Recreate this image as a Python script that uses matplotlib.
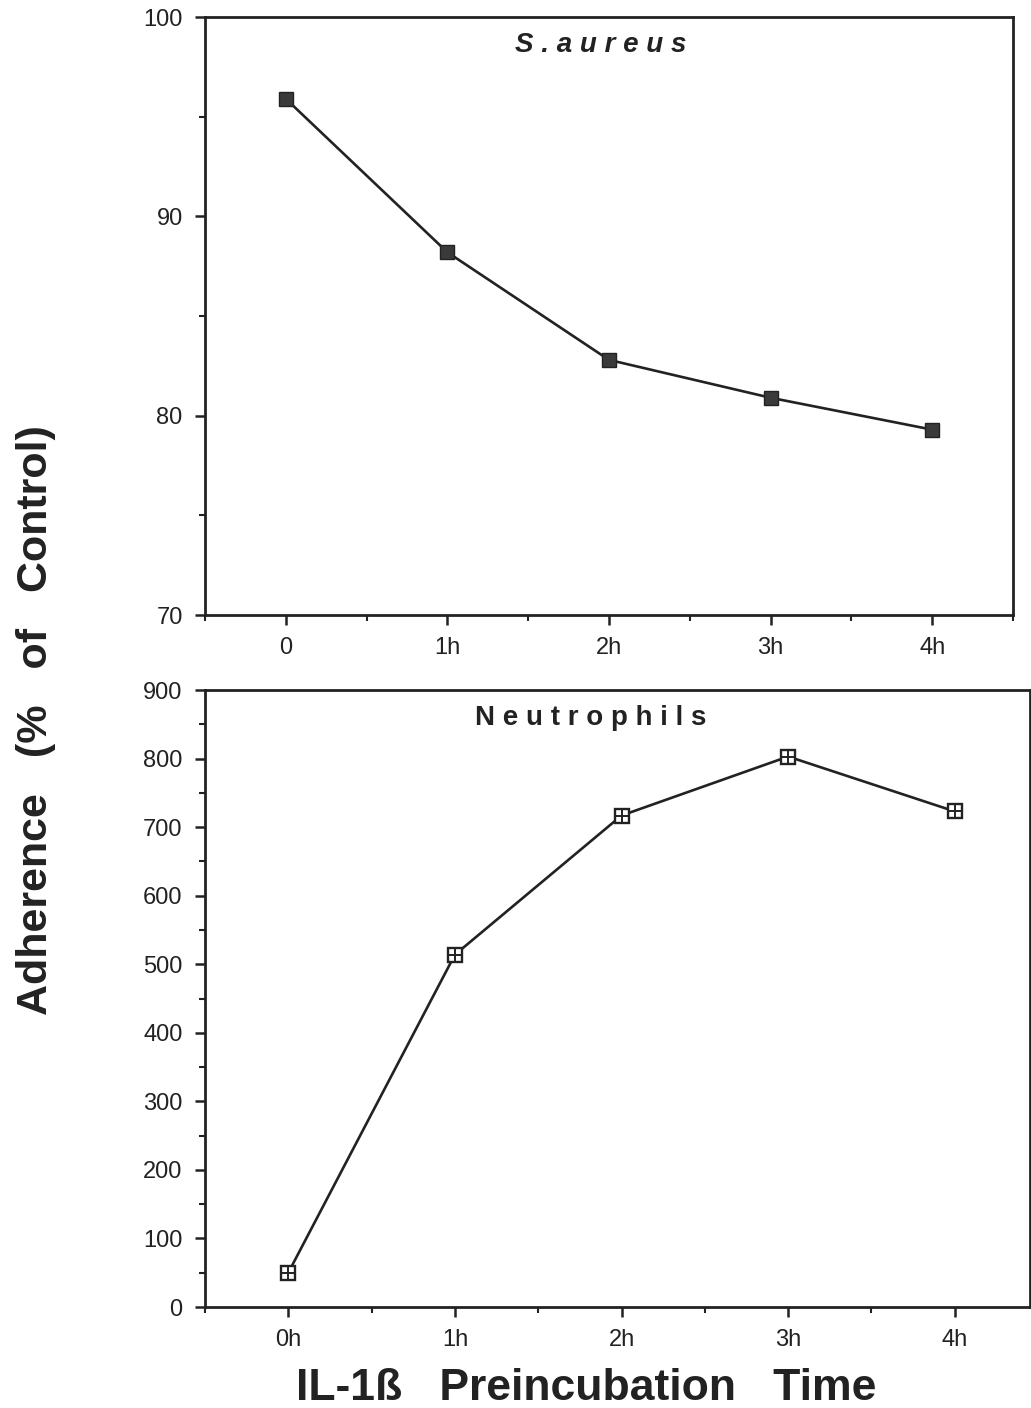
import numpy as np
import matplotlib.pyplot as plt
from matplotlib.ticker import MultipleLocator

plt.rcParams['font.family'] = ['Liberation Sans', 'DejaVu Sans']

# top panel: S.aureus adherence
top_labels = ['0', '1h', '2h', '3h', '4h']
top_values = [95.9, 88.2, 82.8, 80.9, 79.3]

# bottom panel: neutrophil adherence
bot_labels = ['0h', '1h', '2h', '3h', '4h']
bot_values = [50, 514, 717, 803, 723]

fig = plt.figure(figsize=(10.31, 14.08), dpi=100)
ax1 = fig.add_axes([0.1988, 0.5632, 0.7837, 0.4247])
ax2 = fig.add_axes([0.1988, 0.0717, 0.8000, 0.4382])


def style_axis(ax):
    for s in ax.spines.values():
        s.set_linewidth(2.0)
        s.set_color('#222222')
    ax.tick_params(which='major', direction='out', length=7, width=1.8,
                   labelsize=17, pad=9, colors='#222222')
    ax.tick_params(which='minor', direction='out', length=4, width=1.5,
                   colors='#222222')
    ax.xaxis.set_minor_locator(MultipleLocator(0.5))


x1 = np.arange(len(top_values))
ax1.plot(x1, top_values, color='#222222', lw=1.9, marker='s', ms=9.5,
         mfc='#3a3a3a', mec='#222222')
ax1.set_xlim(-0.5, 4.5)
ax1.set_ylim(70, 100)
ax1.set_xticks(x1)
ax1.set_xticklabels(top_labels)
ax1.yaxis.set_major_locator(MultipleLocator(10))
ax1.yaxis.set_minor_locator(MultipleLocator(5))
style_axis(ax1)
ax1.text(0.49, 0.975, 'S . a u r e u s', transform=ax1.transAxes, ha='center', va='top',
         fontsize=20, fontweight='bold', fontstyle='italic', color='#222222')

x2 = np.arange(len(bot_values))
ax2.plot(x2, bot_values, color='#222222', lw=1.9, marker='s', ms=10,
         mfc='white', mec='#222222', mew=1.7)
ax2.plot(x2, bot_values, ls='none', marker='+', ms=10, mec='#222222', mew=1.4)
ax2.set_xlim(-0.5, 4.45)
ax2.set_ylim(0, 900)
ax2.set_xticks(x2)
ax2.set_xticklabels(bot_labels)
ax2.yaxis.set_major_locator(MultipleLocator(100))
ax2.yaxis.set_minor_locator(MultipleLocator(50))
style_axis(ax2)
ax2.text(0.468, 0.975, 'N e u t r o p h i l s', transform=ax2.transAxes,
         ha='center', va='top', fontsize=20, fontweight='bold', color='#222222')

fig.text(0.035, 0.4886, 'Adherence   (%   of   Control)', rotation=90,
         ha='center', va='center', fontsize=31, fontweight='bold', color='#222222')
fig.text(0.569, 0.0058, 'IL-1ß   Preincubation   Time', ha='center',
         va='baseline', fontsize=32, fontweight='bold', color='#222222')

fig.savefig('out.png', dpi=100)
